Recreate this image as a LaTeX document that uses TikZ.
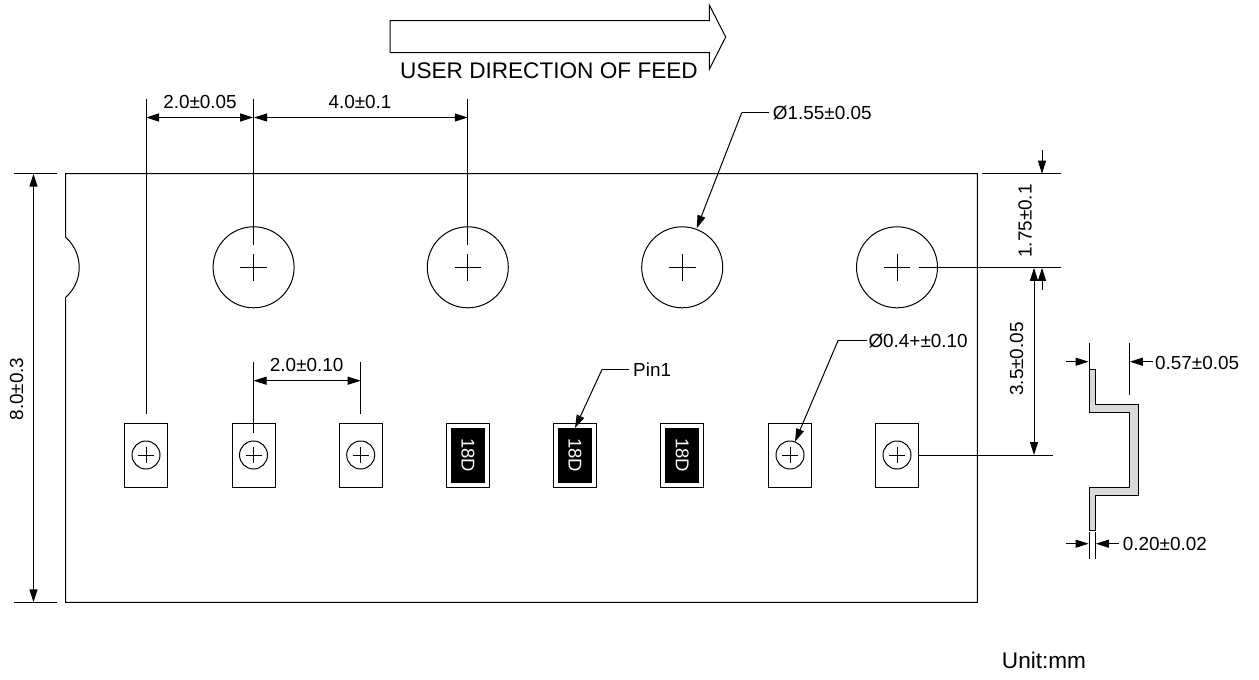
\documentclass[tikz,border=0pt]{standalone}
\usepackage{fontspec}
\setmainfont{Liberation Sans}
\usepackage{tikz}
\usetikzlibrary{arrows.meta,positioning}
\tikzstyle{dim} = [line width=1pt,{Triangle[length=13pt,width=8pt]}-{Triangle[length=13pt,width=8pt]}]
\tikzstyle{lead} = [line width=1pt,-{Triangle[length=13pt,width=8pt]}]
\tikzstyle{ext} = [line width=1pt]
\tikzstyle{hole} = [circle,draw,line width=1pt,inner sep=0pt,minimum size=81pt]
\tikzstyle{pad} = [circle,draw,line width=1pt,inner sep=0pt,minimum size=28pt]
\tikzstyle{pocket} = [rectangle,draw,line width=1pt,inner sep=0pt,minimum width=43pt,minimum height=64pt]
\tikzstyle{body} = [rectangle,fill=black,text=white,inner sep=0pt,minimum width=55pt,minimum height=34pt,rotate=-90,font=\fontsize{18.5}{20}\selectfont]
\tikzstyle{val} = [inner sep=0pt,font=\fontsize{18.9}{20}\selectfont]
\tikzstyle{big} = [inner sep=0pt,font=\fontsize{22.6}{24}\selectfont]

\begin{document}
\begin{tikzpicture}[x=1pt,y=-1pt]
    \useasboundingbox (0,0) rectangle (1259,680);

    \draw[ext] (390,20.7) -- (709.3,20.7) -- (709.3,5) -- (725.7,37) -- (709.3,69.3) -- (709.3,52.7) -- (390,52.7) -- cycle;
    \node (feed) [big] at (549,71) {USER DIRECTION OF FEED};

    \draw[ext] (65.7,173.7) -- (65.7,237.3) arc[start angle=48.6,end angle=-48.6,radius=40pt] -- (65.7,602.3) -- (977.3,602.3) -- (977.3,173.7) -- cycle;

    \node (h1) [hole] at (253.6,267.3) {};
    \node (h2) [hole] at (467.8,267.3) {};
    \node (h3) [hole] at (682.2,267.3) {};
    \node (h4) [hole] at (897,267.3) {};
    \foreach \n in {h1,h2,h3,h4} {
        \draw[ext] (\n.center) ++(-13.3,0) -- ++(26.6,0);
        \draw[ext] (\n.center) ++(0,-13.3) -- ++(0,26.6);
    }

    \node (p1) [pocket] at (146,455) {};
    \node (p2) [pocket] at (253.5,455) {};
    \node (p3) [pocket] at (360.7,455) {};
    \node (p4) [pocket] at (468,455) {};
    \node (p5) [pocket] at (575,455) {};
    \node (p6) [pocket] at (682.2,455) {};
    \node (p7) [pocket] at (790,455) {};
    \node (p8) [pocket] at (897,455) {};
    \foreach \n in {p1,p2,p3,p7,p8} {
        \node (\n c) [pad] at (\n) {};
        \draw[ext] (\n.center) ++(-8,0) -- ++(16,0);
        \draw[ext] (\n.center) ++(0,-8) -- ++(0,16);
    }
    \node (b4) [body] at (p4) {18D};
    \node (b5) [body] at (p5) {18D};
    \node (b6) [body] at (p6) {18D};

    \coordinate (e1t) at (146,98.7);
    \coordinate (e1b) at (146,414);
    \coordinate (e2t) at (253.6,98.7);
    \coordinate (e2b) at (253.6,245);
    \coordinate (e3t) at (467.8,98.7);
    \coordinate (e3b) at (467.8,245);
    \draw[ext] (e1t) -- (e1b);
    \draw[ext] (e2t) -- (e2b);
    \draw[ext] (e3t) -- (e3b);
    \coordinate (a1) at (146,117.5);
    \coordinate (a2) at (253.2,117.5);
    \coordinate (a3) at (254,117.5);
    \coordinate (a4) at (467.8,117.5);
    \draw[dim] (a1) -- (a2);
    \draw[dim] (a3) -- (a4);
    \node (v1) [val] at (200,101.5) {2.0±0.05};
    \node (v2) [val] at (360,101.5) {4.0±0.1};

    \coordinate (e4t) at (253.5,361.7);
    \coordinate (e4b) at (253.5,432.7);
    \coordinate (e5t) at (360.7,361.7);
    \coordinate (e5b) at (360.7,414);
    \draw[ext] (e4t) -- (e4b);
    \draw[ext] (e5t) -- (e5b);
    \coordinate (a5) at (253.5,380.7);
    \coordinate (a6) at (360.7,380.7);
    \draw[dim] (a5) -- (a6);
    \node (v3) [val] at (306.7,364.5) {2.0±0.10};

    \coordinate (l1) at (14.3,173.7);
    \coordinate (l2) at (56.7,173.7);
    \coordinate (l3) at (14.3,602.3);
    \coordinate (l4) at (56.7,602.3);
    \draw[ext] (l1) -- (l2);
    \draw[ext] (l3) -- (l4);
    \coordinate (a7) at (33.5,173.7);
    \coordinate (a8) at (33.5,602.3);
    \draw[dim] (a7) -- (a8);
    \node (v4) [val,rotate=90] at (16.7,389) {8.0±0.3};

    \coordinate (r1) at (981.7,173.7);
    \coordinate (r2) at (1061,173.7);
    \coordinate (r3) at (919.3,267.3);
    \coordinate (r4) at (1061,267.3);
    \coordinate (r5) at (1053,455);
    \draw[ext] (r1) -- (r2);
    \draw[ext] (r3) -- (r4);
    \draw[ext] (p8.east) -- (r5);
    \coordinate (a9) at (1042,150);
    \coordinate (a10) at (1042,173.7);
    \coordinate (a11) at (1042,290);
    \coordinate (a12) at (1042,267.8);
    \draw[lead] (a9) -- (a10);
    \draw[lead] (a11) -- (a12);
    \node (v5) [val,rotate=90] at (1025,221) {1.75±0.1};
    \coordinate (a13) at (1034,267.8);
    \coordinate (a14) at (1034,455);
    \draw[dim] (a13) -- (a14);
    \node (v6) [val,rotate=90] at (1016.7,359) {3.5±0.05};

    \coordinate (t1) at (696.7,228.3);
    \coordinate (k1) at (741.7,112.7);
    \node (v7) [val,anchor=west] at (772.7,113) {Ø1.55±0.05};
    \draw[ext] (v7.west) ++(-3.4,-0.3) -- (k1);
    \draw[lead] (k1) -- (t1);

    \coordinate (t2) at (575,428);
    \coordinate (k2) at (602,369.5);
    \node (v8) [val,anchor=west] at (633,370) {Pin1};
    \draw[ext] (v8.west) ++(-4.5,-0.5) -- (k2);
    \draw[lead] (k2) -- (t2);

    \coordinate (t3) at (795,441.7);
    \coordinate (k3) at (838.3,340);
    \node (v9) [val,anchor=west] at (868.3,340.7) {Ø0.4+±0.10};
    \draw[ext] (v9.west) ++(-1.8,-0.7) -- (k3);
    \draw[lead] (k3) -- (t3);

    \draw[line width=0.8pt,fill=black!15] (1089,369.7) -- (1095.3,369.7) -- (1095.3,404.7) -- (1138.3,404.7) -- (1138.3,495.7) -- (1095.3,495.7) -- (1095.3,530.7) -- (1089,530.7) -- (1089,487.7) -- (1129.3,487.7) -- (1129.3,412.7) -- (1089,412.7) -- cycle;

    \coordinate (s1t) at (1089,342.7);
    \coordinate (s1b) at (1089,369.7);
    \coordinate (s2t) at (1129.3,342.7);
    \coordinate (s2b) at (1129.3,395);
    \draw[ext] (s1t) -- (s1b);
    \draw[ext] (s2t) -- (s2b);
    \coordinate (b1) at (1066,361.7);
    \coordinate (b2) at (1088.6,361.7);
    \coordinate (b3) at (1129.8,361.7);
    \draw[lead] (b1) -- (b2);
    \node (v10) [val,anchor=west] at (1155,362.7) {0.57±0.05};
    \draw[lead] (v10.west) ++(-2,-1) -- (b3);

    \coordinate (s3t) at (1089,532);
    \coordinate (s3b) at (1089,559);
    \coordinate (s4t) at (1095.3,532);
    \coordinate (s4b) at (1095.3,559);
    \draw[ext] (s3t) -- (s3b);
    \draw[ext] (s4t) -- (s4b);
    \coordinate (b4a) at (1066,543.7);
    \coordinate (b5a) at (1088.6,543.7);
    \coordinate (b6a) at (1095.8,543.7);
    \draw[lead] (b4a) -- (b5a);
    \node (v11) [val,anchor=west] at (1122.7,543.5) {0.20±0.02};
    \draw[lead] (v11.west) ++(-4,0.2) -- (b6a);

    \node (unit) [big] at (1044,660) {Unit:mm};
\end{tikzpicture}
\end{document}
